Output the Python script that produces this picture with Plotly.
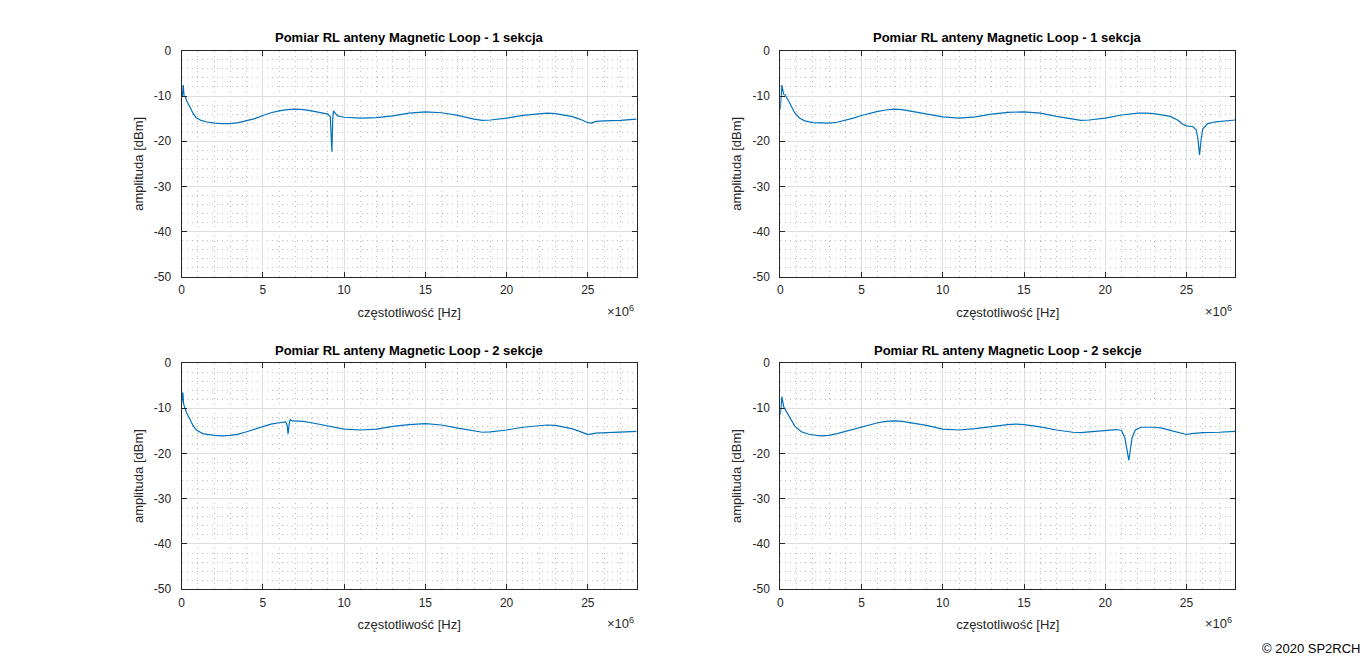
import plotly.graph_objects as go

# ---- data (frequency in MHz, amplitude in dBm) ----
f_tl = [0.0, 0.05, 0.1, 0.15, 0.25, 0.3, 0.5, 0.7, 0.9, 1.2, 1.5, 2.0, 2.5, 3.0, 3.5, 4.0, 4.5, 5.0, 5.5, 6.0,
        6.5, 7.0, 7.5, 8.0, 8.5, 9.0, 9.15, 9.2, 9.25, 9.3, 9.35, 9.45, 9.6, 10, 11, 12, 13, 14, 15, 16, 17,
        18, 18.5, 19, 20, 21, 22, 22.5, 23, 24, 24.5, 25, 25.2, 25.5, 26, 27, 28]
a_tl = [-10.2, -9.8, -7.6, -10.0, -10.3, -11.0, -12.3, -13.8, -14.8, -15.4, -15.7, -16.0, -16.1, -16.1, -15.9,
        -15.5, -15.0, -14.3, -13.7, -13.3, -13.0, -12.9, -13.0, -13.3, -13.6, -14.0, -14.6, -18.0, -22.3, -15.0,
        -13.3, -13.8, -14.4, -14.7, -14.9, -14.8, -14.4, -13.8, -13.5, -13.7, -14.3, -15.1, -15.4, -15.3, -14.9,
        -14.3, -13.9, -13.8, -13.9, -14.5, -15.1, -15.9, -16.0, -15.6, -15.5, -15.4, -15.1]

f_tr = [0.0, 0.1, 0.2, 0.3, 0.5, 0.7, 0.9, 1.2, 1.5, 2.0, 2.5, 3.0, 3.5, 4.0, 4.5, 5.0, 5.5, 6.0, 6.5, 7.0,
        7.5, 8.0, 9.0, 10, 11, 12, 13, 14, 15, 16, 17, 18, 18.5, 19, 20, 21, 22, 22.5, 23, 24, 24.5, 24.75,
        25.0, 25.4, 25.6, 25.7, 25.8, 25.9, 26.0, 26.3, 26.8, 28]
a_tr = [-13.0, -7.6, -9.6, -9.8, -11.0, -12.5, -13.8, -14.9, -15.5, -15.9, -16.0, -16.0, -15.8, -15.4, -14.9,
        -14.3, -13.8, -13.4, -13.1, -12.9, -13.0, -13.3, -13.9, -14.6, -14.9, -14.6, -14.0, -13.6, -13.5, -13.8,
        -14.5, -15.2, -15.4, -15.3, -14.9, -14.2, -13.8, -13.8, -13.9, -14.5, -15.4, -16.2, -16.6, -16.8, -17.5,
        -19.5, -23.0, -19.5, -17.3, -16.1, -15.7, -15.3]

f_bl = [0.0, 0.08, 0.12, 0.2, 0.3, 0.5, 0.7, 0.9, 1.3, 2.0, 2.5, 3.0, 3.5, 4.0, 4.5, 5.0, 5.5, 6.0, 6.4, 6.5,
        6.55, 6.62, 6.68, 6.8, 7.5, 8, 9, 10, 11, 12, 13, 14, 15, 16, 17, 18, 18.5, 19, 20, 21, 22, 22.5, 23,
        24, 24.5, 25, 25.5, 26, 27, 28]
a_bl = [-8.9, -6.5, -9.0, -9.9, -11.0, -12.3, -13.8, -14.8, -15.6, -16.0, -16.1, -16.0, -15.7, -15.2, -14.6,
        -14.0, -13.5, -13.2, -13.0, -13.8, -15.7, -13.5, -12.5, -12.8, -12.9, -13.2, -13.9, -14.6, -14.8, -14.6,
        -14.0, -13.6, -13.4, -13.7, -14.4, -15.1, -15.3, -15.2, -14.8, -14.2, -13.8, -13.7, -13.8, -14.5, -15.1,
        -15.8, -15.5, -15.4, -15.3, -15.1]

f_br = [0.0, 0.1, 0.2, 0.3, 0.5, 0.7, 0.9, 1.3, 1.8, 2.5, 3.0, 3.5, 4.0, 4.5, 5.0, 5.5, 6.0, 6.5, 7.0, 7.5,
        8.0, 9.0, 10, 11, 12, 13, 14, 14.5, 15, 16, 17, 18, 18.5, 19, 20, 20.7, 21.0, 21.2, 21.45, 21.65, 21.85,
        22.2, 23, 23.5, 24, 24.5, 25, 25.3, 26, 27, 28]
a_br = [-11.5, -7.4, -9.6, -10.2, -11.5, -12.8, -14.0, -15.2, -15.8, -16.1, -16.0, -15.6, -15.1, -14.6, -14.1,
        -13.6, -13.2, -12.9, -12.8, -12.9, -13.2, -13.8, -14.6, -14.8, -14.5, -14.0, -13.6, -13.5, -13.6, -14.1,
        -14.8, -15.3, -15.4, -15.2, -15.0, -14.7, -14.9, -16.5, -21.5, -16.5, -14.8, -14.2, -14.2, -14.4, -14.9,
        -15.4, -15.8, -15.6, -15.4, -15.3, -15.1]

titles = ["Pomiar RL anteny Magnetic Loop - 1 sekcja", "Pomiar RL anteny Magnetic Loop - 1 sekcja",
          "Pomiar RL anteny Magnetic Loop - 2 sekcje", "Pomiar RL anteny Magnetic Loop - 2 sekcje"]
x_ticks = [0, 5, 10, 15, 20, 25]
y_ticks = [0, -10, -20, -30, -40, -50]

series = [(f_tl, a_tl), (f_tr, a_tr), (f_bl, a_bl), (f_br, a_br)]

W, H = 1366, 661
FONT = "Liberation Sans, Arial, sans-serif"
AX = "#262626"
LINE = "#0072BD"

# the photographed page comes out slightly squeezed vertically about its centre;
# map wanted pixel rows to paper fractions with that compensated
SQ = 0.978


def py(y):
    yy = H / 2 + (y - H / 2) / SQ
    return 1 - yy / H


# panel boxes in pixels: (left, right, top, bottom)
boxes = [(179, 635, 51, 277), (779, 1235, 51, 277), (179, 635, 363, 589), (779, 1235, 363, 589)]

fig = go.Figure()
annotations = []
layout = {}
for i, ((fx, ay), (l, r, t, b)) in enumerate(zip(series, boxes)):
    n = "" if i == 0 else str(i + 1)
    fig.add_trace(go.Scatter(x=[v * 1e6 for v in fx], y=ay, mode="lines",
                             line=dict(color=LINE, width=1.2),
                             xaxis="x" + n, yaxis="y" + n, showlegend=False, hoverinfo="x+y"))
    common = dict(showline=True, linecolor=AX, linewidth=1, mirror="allticks", ticks="inside",
                  ticklen=5, tickcolor=AX, tickfont=dict(family=FONT, size=12, color=AX),
                  showgrid=True, gridcolor="#dedede", gridwidth=1, zeroline=False)
    minor_grid = dict(showgrid=True, gridcolor="#bcbcbc", griddash="1px,4px", gridwidth=1, ticks="")
    layout["xaxis" + n] = dict(common, domain=[l / W, r / W], anchor="y" + n, range=[0, 28e6],
                               tickvals=[v * 1e6 for v in x_ticks], ticktext=[str(v) for v in x_ticks],
                               ticklabelstandoff=2,
                               minor=dict(minor_grid, dtick=1e6),
                               title=dict(text="częstotliwość [Hz]", font=dict(family=FONT, size=13, color=AX),
                                          standoff=11))
    layout["yaxis" + n] = dict(common, domain=[py(b), py(t)], anchor="x" + n, range=[-50, 0],
                               tickvals=y_ticks, ticktext=[str(v) for v in y_ticks],
                               ticklabelstandoff=7,
                               minor=dict(minor_grid, dtick=2),
                               title=dict(text="amplituda [dBm]", font=dict(family=FONT, size=13, color=AX),
                                          standoff=7))
    annotations.append(dict(text="<b>" + titles[i] + "</b>", x=(l + r) / 2 / W, y=py(t - 13),
                            xref="paper", yref="paper", xanchor="center", yanchor="middle", showarrow=False,
                            font=dict(family=FONT, size=13, color="#000000")))
    annotations.append(dict(text="×10<sup>6</sup>", x=(r - 1) / W, y=py(b + 34),
                            xref="paper", yref="paper", xanchor="right", yanchor="middle", showarrow=False,
                            font=dict(family=FONT, size=13, color=AX)))

annotations.append(dict(text="© 2020 SP2RCH", x=1 - 4 / W, y=py(648), xref="paper", yref="paper",
                        xanchor="right", yanchor="middle", showarrow=False,
                        font=dict(family=FONT, size=13, color="#000000")))

fig.update_layout(width=W, height=H, autosize=False, margin=dict(l=0, r=0, t=0, b=0, pad=0),
                  paper_bgcolor="white", plot_bgcolor="white", annotations=annotations, **layout)
fig.write_html("out.html", config={"responsive": False, "displayModeBar": False},
               post_script="document.body.style.margin='0';document.body.style.padding='0';"
                           "document.body.style.overflow='hidden';")
